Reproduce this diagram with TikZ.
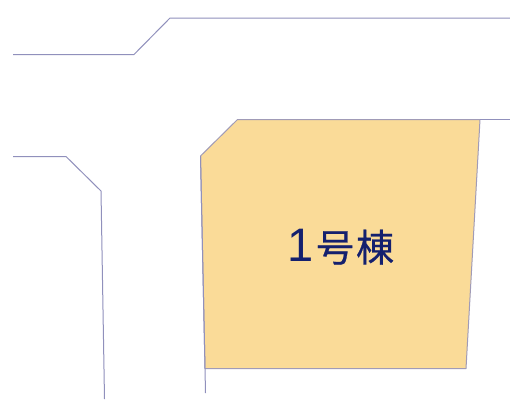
\documentclass[tikz,border=0pt]{standalone}
\usepackage{fontspec}
\newfontfamily\cjk[FakeBold=0.6]{Noto Sans CJK JP}
\newfontfamily\digit{Liberation Sans}
\definecolor{lot}{HTML}{FADB98}
\definecolor{edge}{HTML}{9090BC}
\definecolor{ink}{HTML}{14206E}
\tikzset{boundary/.style={draw=edge,line width=1pt,line join=round},
 lotfill/.style={fill=lot,draw=edge!85!lot,line width=1pt,line join=round}}
\begin{document}
\begin{tikzpicture}[x=1pt,y=-1pt]
\useasboundingbox (0,0) rectangle (510,405);
\fill[white] (0,0) rectangle (510,405);
\draw[boundary] (13,54.5) -- (134,54.5) -- (170,18) -- (510,18);
\draw[boundary] (13,156.5) -- (66,156.5) -- (101,191) -- (104.5,399);
\draw[lotfill] (237.5,119.5) -- (480,119.5) -- (466,368.5) -- (205,368.5) -- (200.5,156) -- cycle;
\draw[boundary] (480,119.5) -- (510,119.5);
\draw[boundary] (200.5,156) -- (205,368.5) -- (205.5,393);
\node[text=ink,anchor=center,inner sep=0pt] (label) at (341,247) {{\digit\fontsize{47}{47}\selectfont 1}\hspace{2pt}{\cjk\fontsize{38}{38}\selectfont 号\hspace{2pt}棟}};
\end{tikzpicture}
\end{document}
